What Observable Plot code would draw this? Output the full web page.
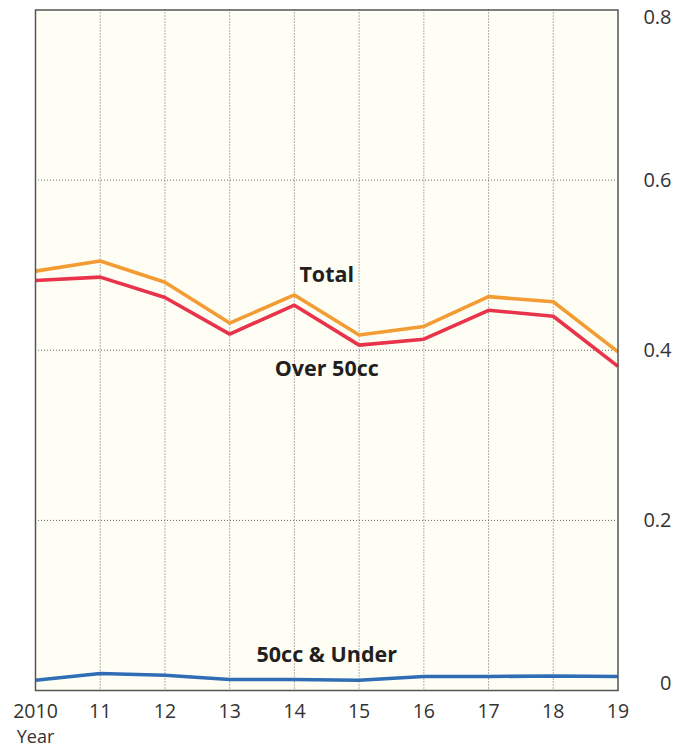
<!DOCTYPE html>
<html>
<head>
<meta charset="utf-8">
<script src="https://cdn.jsdelivr.net/npm/d3@7"></script>
<script src="https://cdn.jsdelivr.net/npm/@observablehq/plot@0.6"></script>
<style>
  html, body { margin: 0; padding: 0; background: #ffffff; }
  #chart svg { display: block; }
</style>
</head>
<body>
<div id="chart"></div>
<script>
const years = [2010, 2011, 2012, 2013, 2014, 2015, 2016, 2017, 2018, 2019];
const total = [0.493, 0.505, 0.480, 0.432, 0.465, 0.418, 0.428, 0.463, 0.457, 0.398];
const over50 = [0.482, 0.486, 0.462, 0.419, 0.453, 0.406, 0.413, 0.447, 0.440, 0.381];
const under50 = [0.012, 0.020, 0.018, 0.013, 0.013, 0.012, 0.0165, 0.0165, 0.017, 0.0165];
const yTicks = [0, 0.2, 0.4, 0.6, 0.8];
const xAxisTitle = "Year";
const seriesNames = ["Total", "Over 50cc", "50cc & Under"];
const seriesColors = ["#f39c34", "#e8334a", "#2f6db5"];

const rows = [];
[total, over50, under50].forEach((vals, i) => {
  vals.forEach((v, j) => rows.push({series: seriesNames[i], year: years[j], value: v}));
});

const labelAnchors = [
  {name: "Total", year: 2014.5, value: 0.488},
  {name: "Over 50cc", year: 2014.5, value: 0.378},
  {name: "50cc & Under", year: 2014.5, value: 0.042}
];

const fmtYear = d => d === 2010 ? "2010" : String(d).slice(2);
const fmtY = d => d === 0 ? "0" : String(d);

const chart = Plot.plot({
  width: 675,
  height: 747,
  marginLeft: 35,
  marginRight: 57.5,
  marginTop: 9.5,
  marginBottom: 57,
  style: {fontFamily: "'Open Sans', sans-serif", background: "#ffffff"},
  x: {domain: [2010, 2019]},
  y: {domain: [0, 0.8]},
  color: {domain: seriesNames, range: seriesColors},
  marks: [
    Plot.frame({fill: "#fffef4", stroke: "none"}),
    Plot.gridX(years.slice(1, -1), {stroke: "#666", strokeOpacity: 1, strokeWidth: 1, strokeDasharray: "1,2"}),
    Plot.gridY(yTicks.slice(1, -1), {stroke: "#666", strokeOpacity: 1, strokeWidth: 1, strokeDasharray: "1,2"}),
    Plot.line(rows, {x: "year", y: "value", z: "series", stroke: "series", strokeWidth: 3.6, strokeLinejoin: "miter", strokeLinecap: "butt"}),
    Plot.frame({stroke: "#555", strokeWidth: 1.5}),
    Plot.text(labelAnchors, {x: "year", y: "value", text: "name", fontSize: 21.5, fontWeight: "bold", fill: "#231f20"}),
    Plot.axisX(years, {tickSize: 0, tickPadding: 0, dy: 14, fontSize: 19.5, fill: "#333", tickFormat: fmtYear, label: null}),
    Plot.text([xAxisTitle], {x: years[0], y: yTicks[0], dy: 46.5, fontSize: 18, fill: "#333"}),
    Plot.axisY(yTicks.slice(1, -1), {anchor: "right", tickSize: 0, textAnchor: "end", dx: 44.5, fontSize: 20, fill: "#333", tickFormat: fmtY, label: null}),
    Plot.axisY([yTicks[4]], {anchor: "right", tickSize: 0, textAnchor: "end", dx: 44.5, dy: 8, fontSize: 20, fill: "#333", tickFormat: fmtY, label: null}),
    Plot.axisY([yTicks[0]], {anchor: "right", tickSize: 0, textAnchor: "end", dx: 44.5, dy: -7, fontSize: 20, fill: "#333", tickFormat: fmtY, label: null})
  ]
});
document.getElementById("chart").appendChild(chart);
</script>
</body>
</html>
